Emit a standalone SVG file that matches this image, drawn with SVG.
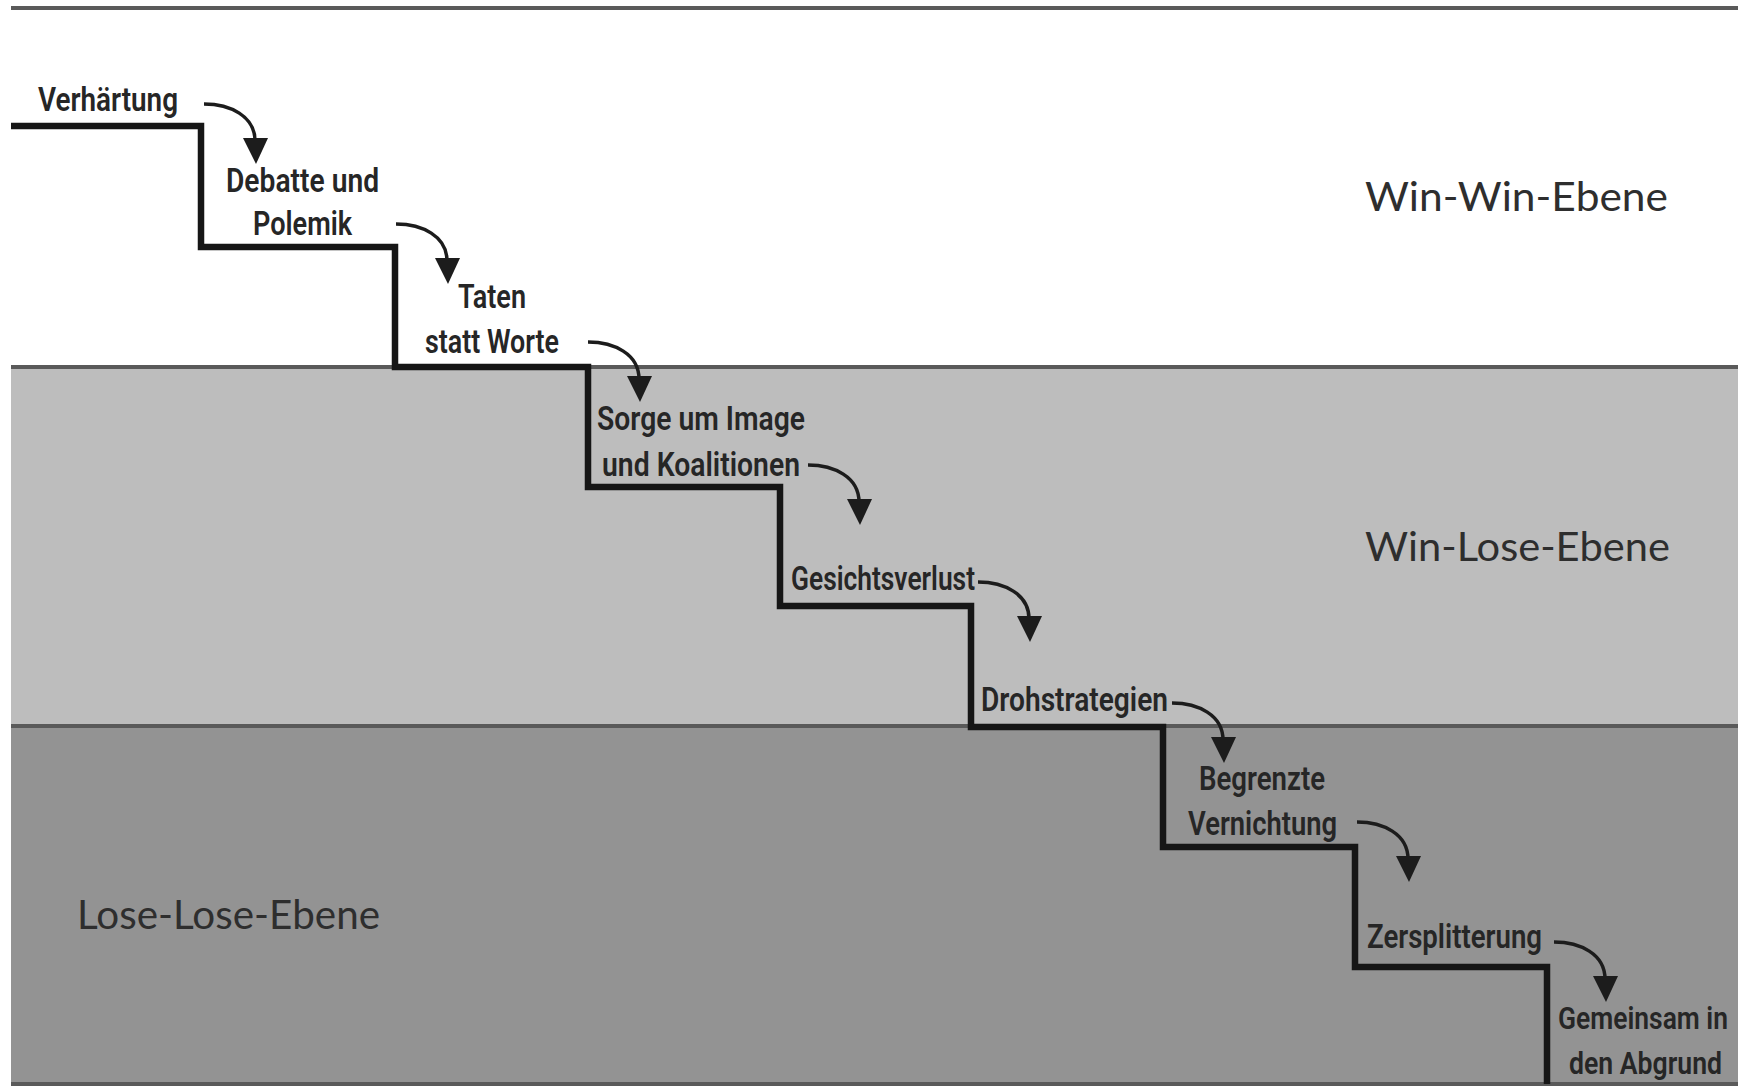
<svg xmlns="http://www.w3.org/2000/svg" xmlns:xlink="http://www.w3.org/1999/xlink" width="1743" height="1087" viewBox="0 0 1743 1087">
  <style>
    .lbl { font-family: Roboto, "Liberation Sans", sans-serif; font-weight: 600; font-size: 34px; fill: #262626; }
    .lbl-s { font-size: 32px; }
    .lvl { font-family: Lato, "Noto Sans", "Liberation Sans", sans-serif; font-weight: 400; font-size: 40px; fill: #2e2e2e; }
    .border { stroke: #5a5a5a; stroke-width: 4; fill: none; }
    .stair { stroke: #161616; stroke-width: 6.5; fill: none; stroke-linejoin: miter; stroke-linecap: butt; }
    .arc { stroke: #1c1c1c; stroke-width: 3.5; fill: none; }
    .head { fill: #1c1c1c; }
  </style>
  <defs>
    <g id="arrow">
      <path class="arc" d="M0,0 C26,0 51,12 51,37"/>
      <polygon class="head" points="39,34 64,34 52,60"/>
    </g>
  </defs>
  <rect width="1743" height="1087" fill="#ffffff"/>

  <g id="bands">
    <rect id="band-winlose" x="11" y="367" width="1727" height="359" fill="#bdbdbd"/>
    <rect id="band-loselose" x="11" y="726" width="1727" height="359" fill="#939393"/>
    <line class="border" x1="11" y1="8" x2="1738" y2="8"/>
    <line class="border" x1="11" y1="367" x2="1738" y2="367"/>
    <line class="border" x1="11" y1="726" x2="1738" y2="726"/>
    <line class="border" x1="11" y1="1084" x2="1738" y2="1084" stroke="#3a3a3a"/>
  </g>

  <g id="connectors">
    <path id="staircase" class="stair" d="M11,126 H201 V247 H395 V367 H588 V487 H780 V606 H971 V727 H1163 V847 H1355 V967 H1547 V1084"/>
    <use xlink:href="#arrow" x="204" y="104"/>
    <use xlink:href="#arrow" x="396" y="224"/>
    <use xlink:href="#arrow" x="588" y="342"/>
    <use xlink:href="#arrow" x="808" y="465"/>
    <use xlink:href="#arrow" x="978" y="582"/>
    <use xlink:href="#arrow" x="1172" y="703"/>
    <use xlink:href="#arrow" x="1357" y="822"/>
    <use xlink:href="#arrow" x="1554" y="942"/>
  </g>

  <g id="level-winwin"><text class="lvl" x="1365" y="211" textLength="303" lengthAdjust="spacingAndGlyphs">Win-Win-Ebene</text></g>
  <g id="level-winlose"><text class="lvl" x="1365" y="561" textLength="305" lengthAdjust="spacingAndGlyphs">Win-Lose-Ebene</text></g>
  <g id="level-loselose"><text class="lvl" x="77" y="929" textLength="303" lengthAdjust="spacingAndGlyphs">Lose-Lose-Ebene</text></g>

  <g id="step1"><text class="lbl" x="38" y="111" textLength="140" lengthAdjust="spacingAndGlyphs">Verhärtung</text></g>
  <g id="step2">
    <text class="lbl" x="226" y="192" textLength="153" lengthAdjust="spacingAndGlyphs">Debatte und</text>
    <text class="lbl" x="253" y="235" textLength="99" lengthAdjust="spacingAndGlyphs">Polemik</text>
  </g>
  <g id="step3">
    <text class="lbl" x="458" y="308" textLength="68" lengthAdjust="spacingAndGlyphs">Taten</text>
    <text class="lbl" x="425" y="353" textLength="134" lengthAdjust="spacingAndGlyphs">statt Worte</text>
  </g>
  <g id="step4">
    <text class="lbl" x="597" y="430" textLength="208" lengthAdjust="spacingAndGlyphs">Sorge um Image</text>
    <text class="lbl" x="602" y="476" textLength="198" lengthAdjust="spacingAndGlyphs">und Koalitionen</text>
  </g>
  <g id="step5"><text class="lbl" x="791" y="590" textLength="184" lengthAdjust="spacingAndGlyphs">Gesichtsverlust</text></g>
  <g id="step6"><text class="lbl" x="981" y="711" textLength="187" lengthAdjust="spacingAndGlyphs">Drohstrategien</text></g>
  <g id="step7">
    <text class="lbl" x="1199" y="790" textLength="126" lengthAdjust="spacingAndGlyphs">Begrenzte</text>
    <text class="lbl" x="1188" y="835" textLength="149" lengthAdjust="spacingAndGlyphs">Vernichtung</text>
  </g>
  <g id="step8"><text class="lbl" x="1367" y="948" textLength="175" lengthAdjust="spacingAndGlyphs">Zersplitterung</text></g>
  <g id="step9">
    <text class="lbl lbl-s" x="1728" y="1029" text-anchor="end" textLength="170" lengthAdjust="spacingAndGlyphs">Gemeinsam in</text>
    <text class="lbl lbl-s" x="1722" y="1074" text-anchor="end" textLength="153" lengthAdjust="spacingAndGlyphs">den Abgrund</text>
  </g>
</svg>
